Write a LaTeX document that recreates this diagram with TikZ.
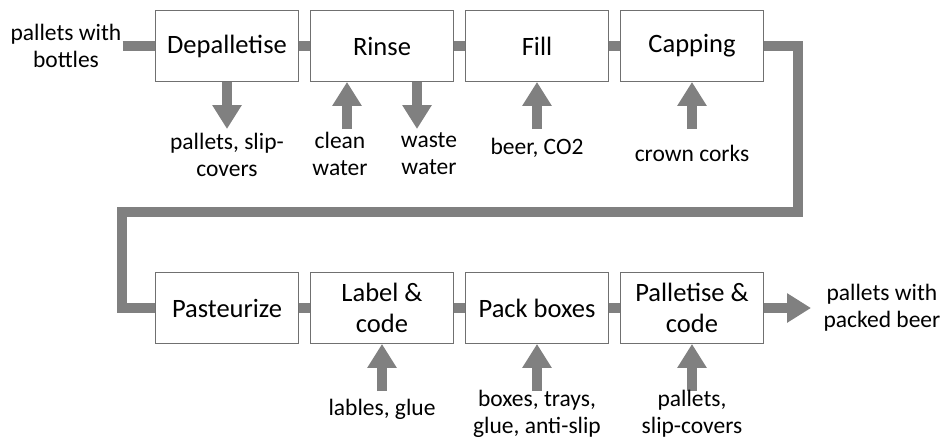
\documentclass[tikz,border=0pt]{standalone}
\usepackage{fontspec}
\setmainfont{Carlito}
\usetikzlibrary{arrows.meta}
\definecolor{flow}{HTML}{808080}
\definecolor{edge}{HTML}{707070}

\begin{document}
\begin{tikzpicture}[x=1pt,y=-1pt,
  stage/.style={draw=edge, line width=0.9pt, fill=white, minimum width=143pt,
    minimum height=71pt, align=center, inner sep=0pt,
    font=\fontsize{26.5}{31}\selectfont},
  note/.style={align=center, inner sep=1pt, font=\fontsize{23.5}{27}\selectfont},
  pipe/.style={draw=flow, line width=10pt, line join=miter},
  feed/.style={draw=flow, line width=10pt, -{Triangle[width=28pt,length=24pt]}}]
\useasboundingbox (0,0) rectangle (943,440);

% process stages, top row
\node[stage] (dep) at (227,46) {Depalletise};
\node[stage] (rin) at (382,46) {Rinse};
\node[stage] (fil) at (537,46) {Fill};
\node[stage] (cap) at (692,46) {Capping};

% process stages, bottom row
\node[stage] (pas) at (227,308) {Pasteurize};
\node[stage] (lab) at (382,308) {Label \&\\code};
\node[stage] (pck) at (537,308) {Pack boxes};
\node[stage] (pal) at (692,308) {Palletise \&\\code};

% input and output of the line
\node[note] (in) at (66,46) {pallets with\\bottles};
\node[note] (out) at (882,308) {pallets with\\packed beer};

% main flow
\draw[pipe] (in.east) -- (dep.west);
\draw[pipe] (dep) -- (rin);
\draw[pipe] (rin) -- (fil);
\draw[pipe] (fil) -- (cap);
\coordinate (t1) at (798,46);
\coordinate (t2) at (798,212);
\coordinate (t3) at (122,212);
\coordinate (t4) at (122,308);
\draw[pipe] (cap.east) -- (t1) -- (t2) -- (t3) -- (t4) -- (pas.west);
\draw[pipe] (pas) -- (lab);
\draw[pipe] (lab) -- (pck);
\draw[pipe] (pck) -- (pal);
\coordinate (tip) at (811,308);
\draw[feed] (pal.east) -- (tip);

% side streams of the top row
\coordinate (dOut) at (227,129);
\draw[feed] (dep.south) -- (dOut);
\node[note] (dLbl) at (227,155) {pallets, slip-\\covers};

\coordinate (cwIn) at (347,129);
\draw[feed] (cwIn) -- (cwIn |- rin.south);
\node[note] (cwLbl) at (340,154) {clean\\water};

\coordinate (wwOut) at (417,129);
\draw[feed] (wwOut |- rin.south) -- (wwOut);
\node[note] (wwLbl) at (429,154) {waste\\water};

\coordinate (fIn) at (537,129);
\draw[feed] (fIn) -- (fil.south);
\node[note] (fLbl) at (537,148) {beer, CO2};

\coordinate (cIn) at (692,129);
\draw[feed] (cIn) -- (cap.south);
\node[note] (cLbl) at (692,153) {crown corks};

% side streams of the bottom row
\coordinate (lIn) at (382,391);
\draw[feed] (lIn) -- (lab.south);
\node[note] (lLbl) at (382,409) {lables, glue};

\coordinate (pIn) at (537,391);
\draw[feed] (pIn) -- (pck.south);
\node[note] (pLbl) at (537,414) {boxes, trays,\\glue, anti-slip};

\coordinate (qIn) at (692,391);
\draw[feed] (qIn) -- (pal.south);
\node[note] (qLbl) at (692,414) {pallets,\\slip-covers};
\end{tikzpicture}
\end{document}
